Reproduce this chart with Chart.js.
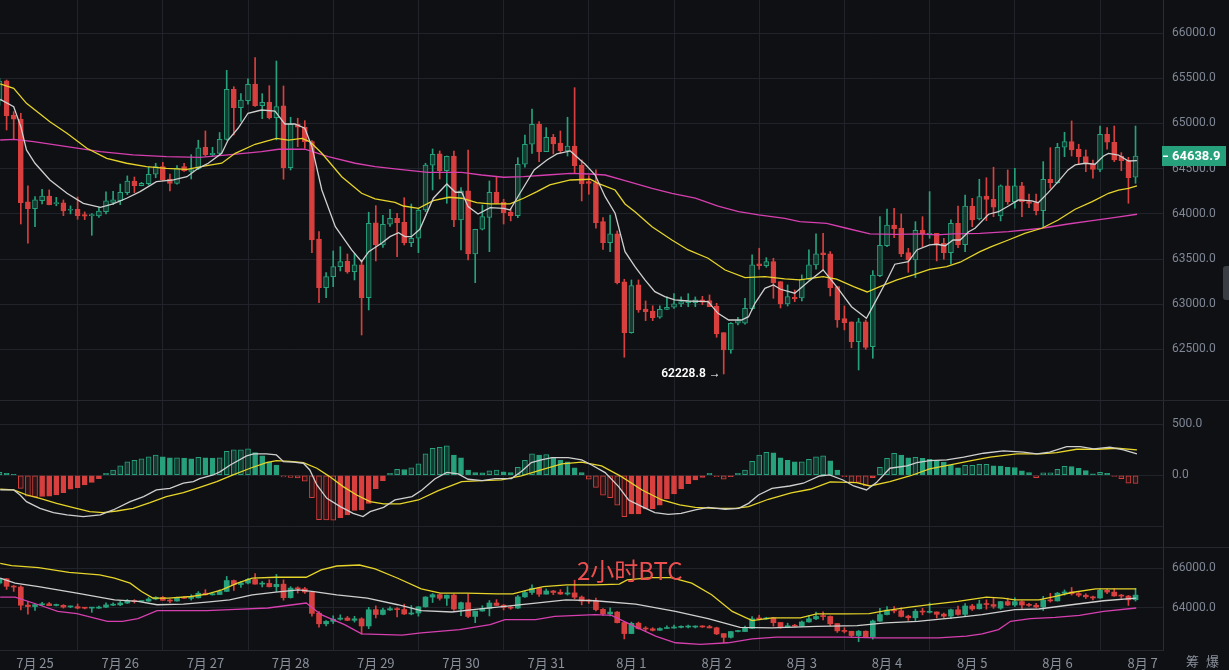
<!DOCTYPE html>
<html>
<head>
<meta charset="utf-8">
<script src="https://cdn.jsdelivr.net/npm/chart.js@4.4.0/dist/chart.umd.min.js"></script>
<style>
html, body { margin: 0; padding: 0; background: #0f1013; overflow: hidden; }
#wrap { position: relative; width: 1229px; height: 670px; background: #0f1013; }
.pane { position: absolute; left: 0; width: 1229px; }
#p1 { top: 0; height: 400px; }
#p2 { top: 401px; height: 146px; }
#p3 { top: 548px; height: 122px; }
.sep { position: absolute; left: 0; width: 1229px; height: 1px; background: #24272d; }
#mark { position: absolute; left: 577px; top: 558px; font: 24px "Noto Sans CJK SC", sans-serif; color: #ec4f50; line-height: 1; white-space: nowrap; }
#corner { position: absolute; left: 1186px; top: 651px; font: 13px "Noto Sans CJK SC", sans-serif; color: #8a909c; letter-spacing: 2px; }
#tab { position: absolute; left: 1223px; top: 266px; width: 6px; height: 34px; background: #3a3d44; border-radius: 3px 0 0 3px; }
</style>
</head>
<body>
<div id="wrap">
  <div class="pane" id="p1"><canvas id="c1"></canvas></div>
  <div class="sep" style="top:400px"></div>
  <div class="pane" id="p2"><canvas id="c2"></canvas></div>
  <div class="sep" style="top:547px"></div>
  <div class="pane" id="p3"><canvas id="c3"></canvas></div>
  <div id="mark">2小时BTC</div>
  <div id="corner">筹 爆</div>
  <div id="tab"></div>
</div>
<script>
// 2h candles, index 0 = 7/25 00:00
var firstIdx = -5;
var dateTicks = [0, 12, 24, 36, 48, 60, 72, 84, 96, 108, 120, 132, 144, 156];
var dateLabels = ['7月 25', '7月 26', '7月 27', '7月 28', '7月 29', '7月 30', '7月 31',
                  '8月 1', '8月 2', '8月 3', '8月 4', '8月 5', '8月 6', '8月 7'];

var opens = [
  65250,65473,65094,65050,64132,64058,64146,64198,64113,64121,64040,64051,
  63992,63980,63977,64025,64128,64146,64235,64364,64312,64334,64438,64522,
  64386,64338,64522,64470,64504,64737,64655,64670,64825,65378,65175,65252,
  65437,65197,65234,65064,65194,64511,64994,64958,64799,63722,63184,63305,
  63416,63475,63361,63435,63073,63900,63656,63885,63951,63907,63681,63730,
  64043,64538,64663,64478,64640,63933,64254,63556,63830,63962,64239,64128,
  64021,63980,64549,64770,64994,64688,64847,64784,64696,64751,64541,64356,
  64345,63914,63681,63778,63247,62686,63214,62948,62926,62856,62944,62967,
  63004,63018,63018,63048,63040,62981,62686,62495,62790,62790,62952,63446,
  63428,63472,63250,63004,63077,63070,63277,63435,63568,63557,63195,62841,
  62805,62587,62805,62531,63317,63649,63877,63844,63571,63490,63822,63767,
  63785,63675,63571,63896,63660,64087,63943,64198,64161,63977,64309,64135,
  64309,64135,64124,64035,64383,64345,64737,64799,64718,64633,64552,64493,
  64881,64792,64640,64589,64405
];
var highs = [
  65500,65481,65131,65113,64309,64190,64272,64265,64183,64154,64088,64187,
  64021,64003,64076,64243,64250,64330,64420,64408,64349,64515,64560,64570,
  64441,64534,64560,64655,64815,64917,64737,64900,65588,65407,65330,65494,
  65728,65330,65418,65691,65415,65069,65058,65031,64810,63803,63350,63590,
  63637,63556,63564,63490,64018,64091,63985,64050,64007,64179,64109,64062,
  64560,64718,64696,64640,64696,64290,64707,63830,64098,64364,64408,64162,
  64062,64622,64873,65160,65020,64954,64880,64917,65069,65396,64596,64423,
  64486,63958,63988,63811,63277,63269,63269,63037,62983,62983,63081,63118,
  63081,63118,63081,63088,63103,63011,62686,62797,62856,63066,63546,63620,
  63516,63509,63250,63214,63158,63325,63601,63778,63786,63583,63195,62981,
  62805,62845,62826,63372,63969,64054,64062,63999,63619,63914,63969,64246,
  63785,63730,63933,64087,64209,64172,64383,64400,64516,64320,64486,64504,
  64349,64220,64220,64578,64732,64781,64903,65028,64770,64707,64596,64972,
  64954,64972,64677,64626,64972
];
var lows = [
  65200,64928,64827,63888,63675,63858,64109,64100,64090,63980,64000,63940,
  63937,63763,63960,64000,64102,64102,64213,64235,64310,64320,64400,64368,
  64254,64330,64470,64386,64490,64640,64640,64660,64815,64873,65023,65213,
  65190,65053,65050,64818,64383,64486,64743,64726,63571,63018,63073,63195,
  63368,63343,63269,62660,62937,63479,63630,63860,63527,63656,63637,63571,
  64024,64264,64386,64117,63858,63601,63490,63239,63822,63582,64117,63888,
  63922,63958,64516,64670,64578,64688,64663,64670,64640,64449,64143,64217,
  63841,63608,63582,63225,62414,62680,62911,62819,62819,62845,62940,62955,
  62973,62973,62973,62996,62974,62635,62228.8,62458,62771,62779,62937,63387,
  63409,63066,62959,62981,63029,63037,63269,63387,63380,63092,62745,62716,
  62520,62273,62502,62403,63306,63637,63737,63527,63354,63295,63637,63730,
  63479,63498,63446,63627,63582,63858,63933,63925,63969,63922,64106,64062,
  63969,64069,63988,63858,64283,64338,64633,64640,64552,64467,64394,64467,
  64715,64578,64478,64117,64338
];
var closes = [
  65470,65086,65047,64124,64058,64154,64198,64102,64125,64032,64050,63980,
  63974,63988,64032,64143,64154,64239,64364,64312,64338,64438,64522,64375,
  64338,64504,64478,64490,64732,64655,64670,64825,65378,65175,65260,65434,
  65197,65234,65064,65186,64511,64994,64958,64799,63711,63184,63305,63416,
  63471,63357,63435,63073,63896,63656,63885,63951,63902,63681,63730,64043,
  64541,64659,64478,64637,63933,64254,63556,63830,63969,64239,64117,64013,
  63980,64549,64770,64991,64688,64847,64773,64696,64751,64533,64331,64338,
  63902,63681,63778,63239,62686,63206,62937,62918,62852,62944,62967,63004,
  63029,63037,63048,63022,62974,62671,62495,62790,62819,62956,63435,63428,
  63472,63239,63004,63085,63059,63277,63435,63557,63549,63184,62826,62797,
  62587,62805,62524,63324,63653,63877,63836,63556,63490,63819,63778,63785,
  63667,63571,63896,63656,64087,63933,64190,64161,64073,64309,64135,64309,
  64135,64117,64035,64383,64345,64737,64799,64707,64633,64552,64493,64881,
  64792,64596,64589,64400,64638.9
];

// moving averages: [candle index, price]
var maShort = [
  [-4.9,65268],[-3,65186],[-2,64965],[-1.2,64707],[0,64560],[2.1,64375],[4.5,64228],[6.8,64117],[9.2,64073],
  [11,64110],[12.9,64173],[14.8,64246],[17.1,64356],[19.5,64375],[21.4,64411],[23,64504],[24.4,64560],
  [26.3,64670],[27.2,64817],[28.6,64947],[30,65113],[31.9,65149],[33.8,65138],[35.2,64994],[36.6,64994],
  [38,64947],[39,64743],[40.4,64264],[42.3,63858],[44.6,63601],[46,63471],[47,63582],[48.8,63675],[50,63748],
  [51.2,63792],[52.1,63748],[53,63748],[54.2,63830],[56.1,64173],[58,64331],[59.2,64239],[60.1,64239],
  [61,64080],[62.4,63999],[64.1,64069],[66,64062],[66.9,64043],[68.3,64228],[70.3,64486],[72.1,64596],
  [73.5,64663],[75.4,64696],[76.8,64596],[77.5,64549],[78.9,64430],[80.3,64190],[81.7,64007],[83.1,63582],
  [84.5,63416],[85.9,63269],[87.3,63140],[88.7,63084],[90.1,63048],[92,63036],[94.8,63029],[96.2,62900],
  [97.7,62826],[99.5,62826],[100.5,62863],[101.4,63011],[102.8,63177],[104,63213],[105,63166],[107,63122],
  [108.9,63250],[111,63380],[112.9,63195],[115,62973],[117.1,62845],[118.5,63048],[120,63269],[121.1,63443],
  [123,63471],[124.2,63601],[126,63656],[127,63664],[128.2,63648],[129.3,63711],[130.3,63711],[131.5,63803],
  [132.4,63841],[134.3,63996],[135.7,64024],[137.1,64087],[138.5,64154],[140.4,64143],[141.3,64124],
  [142.7,64235],[144.1,64356],[145.5,64486],[146.5,64541],[147.9,64560],[149.3,64549],[150.5,64640],
  [151.2,64670],[152.6,64651],[154,64585],[155.2,64588]
];
var maMedium = [
  [-4.9,65437],[-3,65389],[-1.2,65223],[2.1,65020],[4.5,64892],[7.3,64726],[10.1,64615],[12.9,64560],
  [15.7,64522],[18.5,64504],[21.4,64493],[24,64530],[26.3,64560],[28.2,64670],[31,64770],[34,64836],
  [35.7,64817],[37.6,64836],[38.7,64799],[40.4,64670],[43.2,64411],[46,64228],[47.9,64165],[50.7,64128],
  [51.9,64087],[54,64062],[56.1,64146],[58.3,64184],[60.1,64173],[62.2,64124],[64.1,64110],[66.9,64110],
  [68.8,64173],[70.7,64246],[72.5,64320],[75.4,64375],[78.2,64383],[79.3,64338],[81.7,64264],[83.1,64110],
  [84.5,64024],[86.9,63858],[89.7,63711],[92,63601],[94.8,63509],[97.2,63379],[100,63294],[102.8,63305],
  [105.6,63280],[107.7,63269],[111,63305],[112.9,63277],[115.3,63195],[117.2,63136],[119,63195],
  [121.4,63269],[123.7,63324],[126,63387],[128.4,63416],[130.3,63465],[133.1,63582],[134.7,63637],
  [137.1,63711],[139.4,63785],[141.8,63841],[144.1,63932],[146.5,64051],[148.9,64135],[151.2,64228],
  [152.6,64264],[154,64283],[155.2,64309]
];
var maLong = [
  [-4.9,64817],[-3,64825],[-0.2,64799],[4.5,64743],[9.2,64688],[13.8,64652],[18.5,64633],[23.2,64626],
  [27.2,64652],[31.9,64688],[34.3,64715],[38,64715],[41.3,64633],[45.1,64560],[47.9,64522],[50.7,64497],
  [55.3,64460],[60.1,64460],[62.9,64430],[66,64405],[68.8,64412],[72.1,64430],[75.4,64449],[78.2,64441],
  [80.3,64430],[83.1,64367],[86.9,64283],[89.7,64228],[93,64173],[96.2,64087],[99.1,64024],[101.9,63988],
  [105.6,63951],[107.7,63914],[111.5,63896],[114.3,63841],[117.6,63778],[121.4,63774],[124.6,63778],
  [127,63767],[129.3,63778],[133.1,63785],[137.1,63803],[141.8,63841],[145.5,63888],[148.9,63925],
  [152.2,63962],[155.2,63996]
];

// MACD pane
var macdHist = [
  29,20,10,-128,-205,-212,-208,-205,-193,-170,-137,-121,
  -95,-69,-33,20,52,92,131,147,160,180,199,180,
  170,170,168,160,177,170,168,172,235,249,250,258,
  222,190,131,101,-16,-20,-26,-59,-219,-435,-438,-440,
  -415,-389,-345,-340,-275,-131,-52,20,59,57,72,111,
  209,265,275,288,199,170,52,26,24,43,52,33,
  26,78,147,209,199,202,170,150,131,72,26,-39,
  -118,-196,-219,-294,-405,-379,-378,-330,-327,-294,-232,-183,
  -134,-82,-46,-20,20,-13,-39,-13,20,52,137,199,
  226,219,170,147,131,131,157,180,190,141,52,-13,
  -69,-69,-105,-23,78,167,216,199,170,177,167,157,
  147,128,101,72,98,98,108,108,92,90,78,76,
  43,26,-23,23,23,59,88,85,69,46,13,29,
  20,-10,-33,-78,-80
];
var macdDif = [
  [-4.9,-144],[-3,-144],[-2.1,-193],[-1.2,-258],[0.7,-324],[2.6,-366],[4.5,-389],[6.8,-405],[9.2,-389],
  [11,-340],[13.4,-258],[15.3,-209],[17.1,-144],[19,-128],[20.9,-78],[22.3,-62],[23.2,-33],[25.1,3],
  [26.1,36],[27.5,101],[29.8,190],[30.8,209],[32.6,209],[34,199],[35,134],[36.4,128],[37.8,118],[38.7,52],
  [39.7,-95],[41.1,-226],[43,-307],[44.8,-373],[46.2,-405],[47.2,-356],[49.1,-314],[50.7,-242],[53.1,-209],
  [54.5,-144],[56.3,-36],[58,29],[59.6,13],[61,-39],[63,-52],[64.8,-33],[67.1,-33],[68.5,36],[69.9,124],
  [71.3,150],[72.8,173],[75.1,173],[77,150],[78.4,101],[80.3,26],[82.2,-111],[83.6,-242],[85.5,-307],
  [87.3,-366],[89.2,-383],[91,-373],[93,-340],[94.8,-314],[97.2,-333],[99.1,-324],[100.5,-275],
  [101.9,-193],[103.8,-128],[106.3,-105],[108.2,-78],[110.5,-7],[111.9,3],[113.8,-46],[115.3,-105],
  [117.1,-144],[118.5,-72],[120.4,69],[122.8,92],[124.2,124],[126,144],[128.4,150],[130.8,177],
  [133.6,216],[136.4,239],[139.2,226],[141.1,209],[142.9,226],[145.3,281],[147.2,281],[149.1,258],
  [151.4,275],[153.3,249],[155.2,209]
];
var macdDea = [
  [-4.9,-137],[-3,-144],[-1.2,-193],[0.7,-226],[3.05,-275],[5.4,-317],[7.7,-356],[9.6,-366],[11.5,-350],
  [13.8,-324],[16.2,-268],[18.5,-209],[20.9,-170],[23.2,-118],[25.6,-62],[27.9,3],[30.3,69],[32.6,124],
  [34,144],[35.9,137],[37.8,124],[39.7,69],[41.5,-13],[43.4,-111],[45.3,-193],[47.2,-258],[49.1,-281],
  [51.4,-281],[54,-242],[56.8,-150],[60.1,-62],[63,-52],[65.7,-46],[68.5,-7],[71.3,52],[74.2,111],
  [77,128],[79.8,92],[82.6,-13],[85.5,-144],[88.3,-242],[90.8,-291],[93,-314],[95.8,-324],[98.6,-324],
  [100.5,-307],[103.3,-235],[106.5,-172],[109.2,-137],[112,-65],[115.7,-72],[117.6,-105],[120.4,-62],
  [123.2,-7],[126,62],[128.9,101],[131.7,141],[134.5,177],[138.3,209],[141.6,209],[143.9,222],
  [146.7,255],[149.6,255],[152.4,265],[155.2,249]
];

// Bollinger pane
var bollUpper = [
  [-4.9,66252],[-3.3,66131],[0.5,66030],[4.8,65798],[9.1,65662],[11.2,65496],[13.4,65244],[15,64821],
  [16.6,64488],[18.8,64488],[22,64569],[24.2,64690],[26.3,64906],[28.5,65244],[30.6,65496],[33.9,65546],
  [38.2,65546],[40.3,65914],[42.5,66116],[45.7,66166],[47.9,65965],[51.1,65496],[54.4,64957],[57.1,64740],
  [60.8,64740],[65.1,64705],[67.3,64705],[69.5,64906],[71.6,65073],[74.9,65158],[78.9,65158],[82.3,65194],
  [83.4,65410],[86.8,65526],[89.6,65526],[92.5,65244],[95.3,64654],[98.2,63813],[101,63344],[103.8,63480],
  [107.8,63480],[110.1,63682],[114.1,63682],[117.5,63697],[119.8,63848],[123.2,64034],[126.6,64186],
  [130,64317],[134,64538],[136.3,64488],[138,64402],[141.4,64402],[143.7,64569],[146,64771],[149.4,64957],
  [155.1,64957]
];
var bollMid = [
  [-4.9,65496],[-2.8,65244],[0.5,65073],[5.9,64740],[11.2,64402],[14.5,64317],[17.2,64150],[20.9,64186],
  [24.2,64286],[27.4,64402],[30.6,64654],[33.9,64790],[37.1,64906],[39.3,64821],[42.5,64654],[46.8,64488],
  [51.1,64150],[54.4,63848],[58.7,63782],[63,63949],[66.2,64065],[70.5,64236],[74.8,64402],[78.9,64352],
  [84.6,64186],[90.2,63813],[94.8,63445],[99.3,63006],[103.8,62976],[110.1,63057],[115.8,63092],
  [119.8,63228],[124.3,63309],[130,63510],[133.4,63646],[138,63898],[141.4,63933],[146,64150],[150.5,64352],
  [155.1,64488]
];
var bollLower = [
  [-4.9,64538],[-2.8,64538],[0.5,64150],[3.2,63813],[5.9,63697],[10.2,63309],[12.3,63309],[14.5,63445],
  [17.2,63848],[24.2,63848],[27.4,63898],[32.8,63984],[38.2,64236],[40.3,63646],[43.6,63142],[46,62674],
  [51.7,62603],[54.4,62724],[59.8,62890],[64.1,63142],[66.2,63394],[70.5,63394],[73.2,63561],[78.9,63646],
  [81.2,63611],[83.4,63228],[87.4,62553],[90.2,62220],[93.7,62134],[97.6,62220],[101,62422],[104.4,62503],
  [114.1,62503],[118.6,62472],[127.2,62472],[131.2,62553],[133.4,62674],[135.7,62890],[137.4,63309],
  [140.2,63445],[143.7,63510],[147.1,63611],[150.5,63813],[155.1,63984]
];

var mainTicks = [62500, 63000, 63500, 64000, 64500, 65000, 65500, 66000];
var macdTicks = [-500, 0, 500];
var bandTicks = [64000, 66000];

var UP = '#26a17b', UP_FILL = '#153a30', DOWN = '#d8403f', DOWN_FILL = '#2b1517';
var WHITE = '#cfcfcf', YELLOW = '#e6d42a', PINK = '#d63fb0';
var GRID = '#202329', AXIS_TXT = '#7f8696';

var idx = opens.map(function (_, i) { return firstIdx + i; });
function isUp(i) { return closes[i] >= opens[i]; }
function xy(arr) { return arr.map(function (p) { return { x: p[0], y: p[1] }; }); }

function xAxis(show) {
  return {
    type: 'linear', min: -4.93, max: 158.87, offset: false,
    afterBuildTicks: function (s) { s.ticks = dateTicks.map(function (v) { return { value: v }; }); },
    afterFit: function (s) { s.height = show ? 20 : 0; s.paddingLeft = 0; s.paddingRight = 0; },
    ticks: {
      display: show, autoSkip: false, maxRotation: 0, padding: 5, color: '#8a909c',
      font: { size: 13, family: '"Noto Sans CJK SC", "Noto Sans", sans-serif' },
      callback: function (v) { return dateLabels[dateTicks.indexOf(v)]; }
    },
    grid: { color: GRID, drawTicks: false },
    border: { display: show, color: '#24272d' }
  };
}
function yAxis(min, max, ticks, hideFirst) {
  return {
    type: 'linear', position: 'right', min: min, max: max,
    afterBuildTicks: function (s) { s.ticks = ticks.map(function (v) { return { value: v }; }); },
    afterFit: function (s) { s.width = 66; s.paddingTop = 0; s.paddingBottom = 0; },
    ticks: {
      padding: 9, color: AXIS_TXT, font: { size: 12, family: 'Roboto, sans-serif' },
      callback: function (v) { return (hideFirst && v === ticks[0]) ? '' : v.toFixed(1); }
    },
    grid: { color: GRID, drawTicks: false },
    border: { display: true, color: '#2a2d33' }
  };
}
function line(data, color, order) {
  return { type: 'line', data: xy(data), borderColor: color, borderWidth: 1.3, pointRadius: 0, order: order };
}
function candleSets(bodyW, hollow) {
  return [
    { type: 'bar', order: 10, grouped: false, barPercentage: 1, categoryPercentage: 1, maxBarThickness: 1,
      data: idx.map(function (k, i) { return { x: k, y: [lows[i], highs[i]] }; }),
      backgroundColor: function (c) { return isUp(c.dataIndex) ? UP : DOWN; } },
    { type: 'bar', order: 9, grouped: false, barPercentage: 1, categoryPercentage: 1, maxBarThickness: bodyW,
      minBarLength: 1, borderWidth: hollow ? 1 : 0, borderSkipped: false,
      data: idx.map(function (k, i) { return { x: k, y: [opens[i], closes[i]] }; }),
      backgroundColor: function (c) { return isUp(c.dataIndex) ? (hollow ? UP_FILL : UP) : DOWN; },
      borderColor: function (c) { return isUp(c.dataIndex) ? UP : DOWN; } }
  ];
}

var lowLabel = {
  id: 'lowLabel',
  afterDatasetsDraw: function (chart) {
    var m = 0;
    for (var i = 1; i < lows.length; i++) if (lows[i] < lows[m]) m = i;
    var x = chart.scales.x.getPixelForValue(idx[m]);
    var y = chart.scales.y.getPixelForValue(lows[m]);
    var ctx = chart.ctx;
    ctx.save();
    ctx.fillStyle = '#ffffff';
    ctx.font = '600 12px Roboto, sans-serif';
    ctx.textAlign = 'right';
    ctx.textBaseline = 'middle';
    ctx.fillText(lows[m].toFixed(1) + ' \u2192', x - 3, y);
    ctx.restore();
  }
};
var lastPrice = {
  id: 'lastPrice',
  afterDraw: function (chart) {
    var last = closes[closes.length - 1];
    var y = Math.round(chart.scales.y.getPixelForValue(last));
    var left = chart.chartArea.right - 1;
    var ctx = chart.ctx;
    ctx.save();
    ctx.fillStyle = UP;
    ctx.fillRect(left, y - 10, 64, 20);
    ctx.fillStyle = '#ffffff';
    ctx.fillRect(left + 1, y - 0.5, 5, 1.5);
    ctx.font = 'bold 13px Roboto, sans-serif';
    ctx.textAlign = 'left';
    ctx.textBaseline = 'middle';
    ctx.fillText(last.toFixed(1), left + 10, y + 1);
    ctx.restore();
  }
};

var common = {
  responsive: true, maintainAspectRatio: false, animation: false, events: [],
  layout: { padding: 0 },
  plugins: { legend: { display: false }, tooltip: { enabled: false } }
};
function opts(scales) { return Object.assign({}, common, { scales: scales }); }

new Chart(document.getElementById('c1'), {
  type: 'bar',
  data: { datasets: candleSets(5, true).concat([
    line(maLong, PINK, 3), line(maMedium, YELLOW, 2), line(maShort, WHITE, 1)
  ]) },
  options: opts({ x: xAxis(false), y: yAxis(61941, 66366, mainTicks, false) }),
  plugins: [lowLabel, lastPrice]
});

new Chart(document.getElementById('c2'), {
  type: 'bar',
  data: { datasets: [
    { type: 'bar', order: 5, grouped: false, barPercentage: 1, categoryPercentage: 1, maxBarThickness: 5,
      borderWidth: 1, borderSkipped: false,
      data: idx.map(function (k, i) { return { x: k, y: macdHist[i] }; }),
      backgroundColor: function (c) {
        var i = c.dataIndex, v = macdHist[i], p = i > 0 ? macdHist[i - 1] : v;
        if (v >= 0) return v >= p ? UP_FILL : UP;
        return v <= p ? DOWN_FILL : DOWN;
      },
      borderColor: function (c) { return macdHist[c.dataIndex] >= 0 ? UP : DOWN; } },
    line(macdDea, YELLOW, 2), line(macdDif, WHITE, 1)
  ] },
  options: opts({ x: xAxis(false), y: yAxis(-703, 728, macdTicks, true) })
});

new Chart(document.getElementById('c3'), {
  type: 'bar',
  data: { datasets: candleSets(5, false).concat([
    line(bollLower, PINK, 3), line(bollMid, WHITE, 2), line(bollUpper, YELLOW, 1)
  ]) },
  options: opts({ x: xAxis(true), y: yAxis(61853, 67030, bandTicks, false) })
});
</script>
</body>
</html>
